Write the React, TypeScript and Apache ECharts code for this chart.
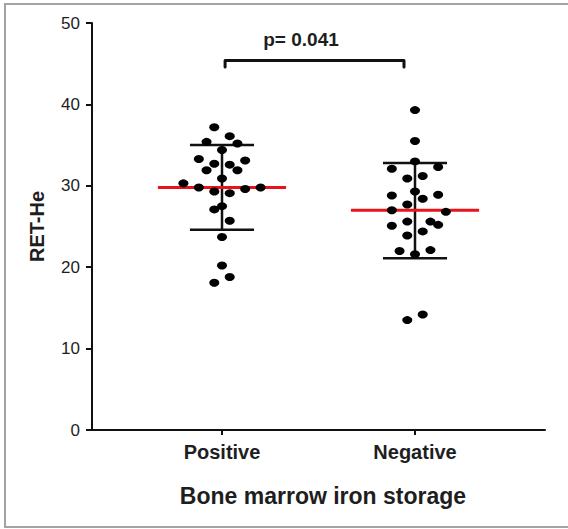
import React, { useEffect, useRef } from "react";
import * as echarts from "echarts";

const categories = ["Positive", "Negative"];
const categoryPositions = [1, 2];
const yTicks = [0, 10, 20, 30, 40, 50];

const positiveValues = [37.2, 36.1, 35.4, 35.2, 34.4, 33.3, 33.1, 32.7, 32.6, 31.9, 31.9, 30.9, 30.3, 29.8, 29.3, 29.1, 29.6, 29.8, 27.1, 27.5, 25.7, 23.7, 20.2, 18.8, 18.1];
const positiveJitter = [-0.04, 0.04, -0.08, 0.08, 0, -0.12, 0.12, -0.04, 0.04, -0.08, 0.08, 0, -0.2, -0.12, -0.04, 0.04, 0.12, 0.2, -0.04, 0, 0.04, 0, 0, 0.04, -0.04];

const negativeValues = [39.3, 35.5, 33.0, 32.1, 32.3, 30.9, 31.2, 29.3, 28.8, 28.9, 28.4, 27.7, 27.0, 26.8, 25.1, 25.6, 25.6, 25.2, 24.4, 23.9, 22.0, 21.6, 22.1, 13.5, 14.2];
const negativeJitter = [0, 0, 0, -0.12, 0.12, -0.04, 0.04, 0, -0.12, 0.12, 0.04, -0.04, -0.12, 0.16, -0.12, -0.04, 0.08, 0.12, 0.04, -0.04, -0.08, 0, 0.08, -0.04, 0.04];

const means = [29.8, 27.0];
const sdHigh = [35.0, 32.8];
const sdLow = [24.6, 21.1];

const pValueText = "p= 0.041";
const bracketX = [1.016, 1.943];
const bracketY = [45.4, 44.6];

const FONT = "'Liberation Sans', Arial, Helvetica, sans-serif";
const TEXT = "#1e1e1e";

export default function App() {
  const ref = useRef<HTMLDivElement>(null);

  useEffect(() => {
    if (!ref.current) return;
    const chart = echarts.init(ref.current, null, { renderer: "svg" });

    const dots = [
      ...positiveValues.map((v, i) => [categoryPositions[0] + positiveJitter[i], v]),
      ...negativeValues.map((v, i) => [categoryPositions[1] + negativeJitter[i], v]),
    ];

    const stats = categoryPositions.map((x, i) => [x, means[i], sdLow[i], sdHigh[i]]);

    chart.setOption({
      animation: false,
      backgroundColor: "#fff",
      grid: { left: 87, right: 23, top: 23, bottom: 99 },
      xAxis: {
        type: "value",
        min: 0.3005,
        max: 2.6736,
        splitLine: { show: false },
        axisLine: { lineStyle: { color: "#111", width: 2 } },
        axisTick: {
          show: true,
          customValues: categoryPositions,
          length: 5,
          lineStyle: { color: "#111", width: 2 },
        },
        axisLabel: {
          customValues: categoryPositions,
          formatter: (v: number) => categories[categoryPositions.indexOf(Math.round(v))] ?? "",
          color: TEXT,
          fontFamily: FONT,
          fontWeight: "bold",
          fontSize: 20,
          margin: 12,
        },
      },
      yAxis: {
        type: "value",
        min: 0,
        max: 50,
        interval: 10,
        offset: -5,
        name: "RET-He",
        nameLocation: "middle",
        nameGap: 45,
        nameTextStyle: { color: TEXT, fontFamily: FONT, fontWeight: "bold", fontSize: 20 },
        splitLine: { show: false },
        axisLine: { show: true, lineStyle: { color: "#111", width: 2 } },
        axisTick: { show: true, length: 6, lineStyle: { color: "#111", width: 2 } },
        axisLabel: {
          color: TEXT,
          fontFamily: FONT,
          fontSize: 17,
          margin: 12,
          formatter: (v: number) => (yTicks.includes(v) ? String(v) : ""),
        },
      },
      graphic: [
        {
          type: "rect",
          shape: { x: 5, y: 4, width: 580, height: 523 },
          style: { fill: "none", stroke: "#a3a3a3", lineWidth: 2 },
          silent: true,
        },
        {
          type: "text",
          x: 301,
          y: 39,
          style: {
            text: pValueText,
            fill: TEXT,
            font: `bold 19px ${FONT}`,
            align: "center",
            verticalAlign: "middle",
          },
        },
        {
          type: "text",
          x: 323,
          y: 496,
          style: {
            text: "Bone marrow iron storage",
            fill: TEXT,
            font: `bold 23px ${FONT}`,
            align: "center",
            verticalAlign: "middle",
          },
        },
      ],
      series: [
        {
          type: "custom",
          z: 1,
          data: stats,
          renderItem: (params: any, api: any) => {
            const x = api.value(0);
            const m = api.value(1);
            const lo = api.value(2);
            const hi = api.value(3);
            const cap = 0.166;
            const half = 0.332;
            const pTop = api.coord([x, hi]);
            const pBot = api.coord([x, lo]);
            const capL1 = api.coord([x - cap, hi]);
            const capR1 = api.coord([x + cap, hi]);
            const capL2 = api.coord([x - cap, lo]);
            const capR2 = api.coord([x + cap, lo]);
            const mL = api.coord([x - half, m]);
            const mR = api.coord([x + half, m]);
            const black = { stroke: "#111", lineWidth: 2.5 };
            return {
              type: "group",
              children: [
                { type: "line", shape: { x1: pTop[0], y1: pTop[1], x2: pBot[0], y2: pBot[1] }, style: black },
                { type: "line", shape: { x1: capL1[0], y1: capL1[1], x2: capR1[0], y2: capR1[1] }, style: black },
                { type: "line", shape: { x1: capL2[0], y1: capL2[1], x2: capR2[0], y2: capR2[1] }, style: black },
                { type: "line", shape: { x1: mL[0], y1: mL[1], x2: mR[0], y2: mR[1] }, style: { stroke: "#e8141b", lineWidth: 3 } },
              ],
            };
          },
        },
        {
          type: "scatter",
          z: 3,
          data: dots,
          symbol: "circle",
          symbolSize: [10, 8],
          itemStyle: { color: "#000", opacity: 1 },
        },
        {
          type: "line",
          z: 2,
          data: [
            [bracketX[0], bracketY[1]],
            [bracketX[0], bracketY[0]],
            [bracketX[1], bracketY[0]],
            [bracketX[1], bracketY[1]],
          ],
          symbol: "none",
          lineStyle: { color: "#111", width: 3, cap: "round", join: "round" },
        },
      ],
    });

    return () => chart.dispose();
  }, []);

  return (
    <div
      ref={ref}
      style={{ position: "fixed", left: 0, top: 0, width: 568, height: 529 }}
    />
  );
}
